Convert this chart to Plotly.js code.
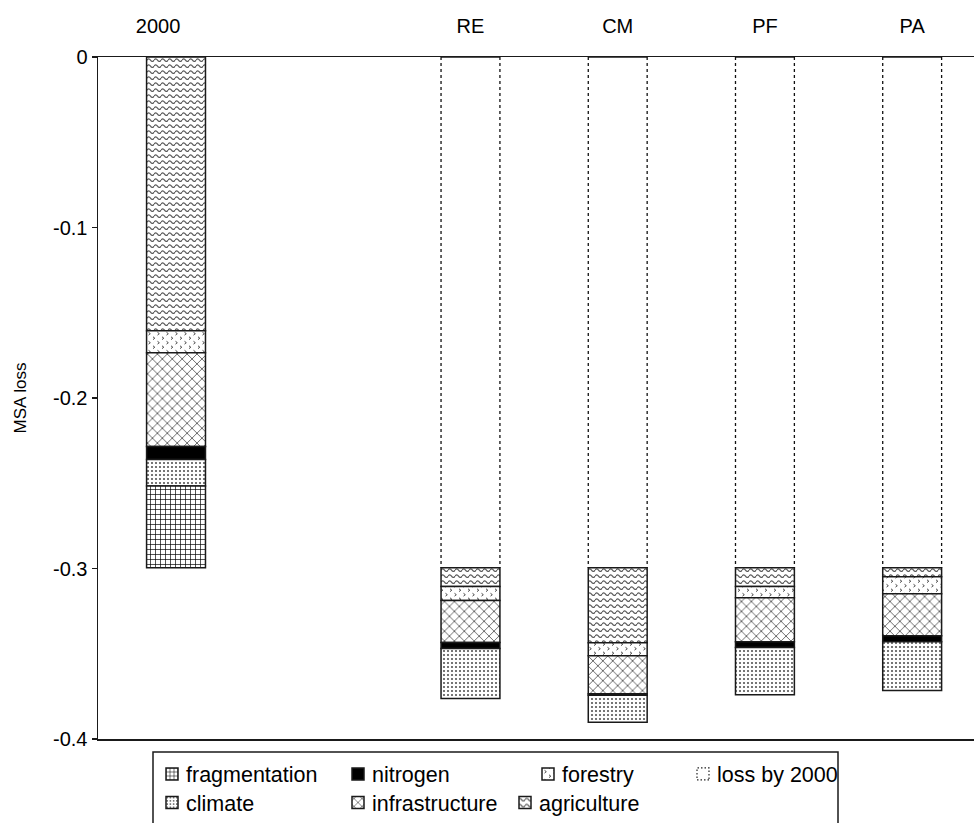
<!DOCTYPE html>
<html>
<head>
<meta charset="utf-8">
<script src="https://cdn.plot.ly/plotly-3.0.1.min.js"></script>
<style>
  html, body { margin: 0; padding: 0; background: #ffffff; }
  #chart { width: 974px; height: 823px; }
</style>
</head>
<body>
<div id="chart"></div>
<script>
// ---------------- data ----------------
const categories = ["2000", "", "RE", "CM", "PF", "PA"];
const yTickVals = [0, -0.1, -0.2, -0.3, -0.4];
const yTickText = ["0", "-0.1", "-0.2", "-0.3", "-0.4"];

const lossBy2000     = [0,       null, -0.2995, -0.2995, -0.2995, -0.2995];
const agriculture    = [-0.1605, null, -0.0111, -0.0440, -0.0111, -0.0053];
const forestry       = [-0.0130, null, -0.0082, -0.0076, -0.0065, -0.0100];
const infrastructure = [-0.0550, null, -0.0246, -0.0223, -0.0258, -0.0246];
const nitrogen       = [-0.0076, null, -0.0035, -0.0010, -0.0035, -0.0035];
const climate        = [-0.0155, null, -0.0293, -0.0158, -0.0276, -0.0287];
const fragmentation  = [-0.0479, null, 0,       0,       0,       0];

// ---------------- styles ----------------
const FONT = "Liberation Sans, Arial, Helvetica, sans-serif";
const BAR_W = 0.4;
const EDGE = { color: "#1a1a1a", width: 1.5 };
const xs = categories.map((c, i) => i);

function barTrace(name, values, marker, legendId) {
  return {
    type: "bar", name: name, x: xs, y: values, width: BAR_W,
    marker: Object.assign({ line: EDGE }, marker),
    legend: legendId, hoverinfo: "name+y"
  };
}

const traces = [
  {
    type: "bar", name: "loss by 2000 ", x: xs, y: lossBy2000, width: BAR_W,
    marker: { color: "rgba(0,0,0,0)", line: { width: 0 } },
    showlegend: false, hoverinfo: "name+y"
  },
  barTrace("agriculture", agriculture,
    { color: "#ffffff", pattern: { shape: "-", fgcolor: "#555555", bgcolor: "#ffffff", size: 5, solidity: 0.35 } }, "legend7"),
  barTrace("forestry", forestry,
    { color: "#ffffff", pattern: { shape: ".", fgcolor: "#444444", bgcolor: "#ffffff", size: 7, solidity: 0.12 } }, "legend3"),
  barTrace("infrastructure", infrastructure,
    { color: "#ffffff", pattern: { shape: "x", fgcolor: "#111111", bgcolor: "#ffffff", size: 7, solidity: 0.17 } }, "legend6"),
  barTrace("nitrogen", nitrogen, { color: "#000000" }, "legend2"),
  barTrace("climate", climate,
    { color: "#ffffff", pattern: { shape: ".", fgcolor: "#555555", bgcolor: "#ffffff", size: 4, solidity: 0.22 } }, "legend5"),
  barTrace("fragmentation", fragmentation,
    { color: "#ffffff", pattern: { shape: "+", fgcolor: "#000000", bgcolor: "#ffffff", size: 5, solidity: 0.25 } }, "legend"),
  // legend entry for the reference ("loss by 2000") outline
  {
    type: "bar", name: "loss by 2000", x: [null], y: [null], width: BAR_W,
    marker: { color: "rgba(0,0,0,0)", line: { color: "#222222", width: 1.2 } },
    legend: "legend4", hoverinfo: "skip"
  }
];

// dotted side lines of the "loss by 2000" reference bars (from the data)
const dx = [], dy = [];
lossBy2000.forEach((v, i) => {
  if (v !== null && v < 0) {
    dx.push(xs[i] - BAR_W / 2, xs[i] - BAR_W / 2, null, xs[i] + BAR_W / 2, xs[i] + BAR_W / 2, null);
    dy.push(0, v, null, 0, v, null);
  }
});
traces.push({
  type: "scatter", mode: "lines", x: dx, y: dy, showlegend: false, hoverinfo: "skip",
  line: { color: "#111111", width: 1.3, dash: "dot" }
});

// ---------------- layout ----------------
const L = 98, R = 974, T = 57, B = 739;
const px2x = p => (p - L) / (R - L);
const px2y = p => (B - p) / (B - T);
const legFont = { family: FONT, size: 21.5, color: "#000000" };
function leg(iconLeftPx, ypx) {
  return { x: px2x(iconLeftPx - 14), y: px2y(ypx), xanchor: "left", yanchor: "middle",
    bgcolor: "rgba(0,0,0,0)", borderwidth: 0, font: legFont, itemwidth: 30 };
}

const tickCats = categories.map((c, i) => i).filter(i => categories[i] !== "");

const layout = {
  width: 974, height: 823,
  margin: { l: L, r: 974 - R, t: T, b: 823 - B, pad: 0 },
  paper_bgcolor: "#ffffff", plot_bgcolor: "#ffffff",
  barmode: "relative",
  font: { family: FONT, size: 20, color: "#000000" },
  showlegend: true,
  xaxis: {
    range: [-0.53, 5.42], side: "top",
    tickvals: tickCats, ticktext: tickCats.map(i => categories[i]),
    ticks: "", ticklabelstandoff: 15,
    showline: true, linecolor: "#1a1a1a", linewidth: 1.5, mirror: true,
    showgrid: false, zeroline: false,
    tickfont: { family: FONT, size: 20, color: "#000" }
  },
  yaxis: {
    range: [-0.4, 0],
    tickvals: yTickVals, ticktext: yTickText,
    ticks: "outside", ticklen: 5, tickwidth: 1.2, tickcolor: "#1a1a1a",
    showline: true, linecolor: "#1a1a1a", linewidth: 1.5,
    showgrid: false, zeroline: false,
    tickfont: { family: FONT, size: 20, color: "#000" },
    title: { text: "MSA loss", font: { family: FONT, size: 17, color: "#000" }, standoff: 22 }
  },
  legend:  leg(166, 774),
  legend2: leg(352, 774),
  legend3: leg(542, 774),
  legend4: leg(697, 774),
  legend5: leg(166, 803),
  legend6: leg(352, 803),
  legend7: leg(519, 803),
  shapes: [{
    type: "rect", xref: "paper", yref: "paper",
    x0: px2x(153), x1: px2x(838), y0: px2y(752), y1: px2y(826),
    line: { color: "#1a1a1a", width: 1.5 }, fillcolor: "rgba(0,0,0,0)", layer: "above"
  }]
};

// ---------- custom hatch textures (applied to the library's own pattern defs) ----------
const SVGNS = "http://www.w3.org/2000/svg";
const customPatterns = {
  agriculture: { w: 7, h: 6, html:
    '<rect x="0" y="0" width="7" height="6" fill="#ffffff"/>' +
    '<path d="M0,3.2 Q1.75,0.6 3.5,3.2 T7,3.2" fill="none" stroke="#5a5a5a" stroke-width="1.2"/>' },
  forestry: { w: 9, h: 9, html:
    '<rect x="0" y="0" width="9" height="9" fill="#ffffff"/>' +
    '<path d="M1,0.8 L2.8,2.2 L1,3.6 M5.5,5.3 L7.3,6.7 L5.5,8.1" fill="none" stroke="#333333" stroke-width="0.9"/>' }
};

function patternIdsIn(el) {
  const ids = [];
  el.querySelectorAll("path").forEach(p => {
    const f = (p.style && p.style.fill) || p.getAttribute("fill") || "";
    const m = f.match(/#([^'")\s]+)/);
    if (m && f.indexOf("url") >= 0) ids.push(m[1]);
  });
  return ids;
}
function rewrite(id, spec) {
  const pat = document.getElementById(id);
  if (!pat || pat.getAttribute("data-custom") === "1") return;
  pat.setAttribute("data-custom", "1");
  pat.setAttribute("width", spec.w);
  pat.setAttribute("height", spec.h);
  pat.removeAttribute("patternTransform");
  while (pat.firstChild) pat.removeChild(pat.firstChild);
  const tmp = document.createElementNS(SVGNS, "g");
  tmp.innerHTML = spec.html;
  while (tmp.firstChild) pat.appendChild(tmp.firstChild);
}

function postProcess() {
  const gd = document.getElementById("chart");
  try {
    gd.querySelectorAll("g.barlayer g.trace").forEach((g, k) => {
      const nm = traces[k] && traces[k].name;
      if (customPatterns[nm]) patternIdsIn(g).forEach(id => rewrite(id, customPatterns[nm]));
    });
  } catch (e) {}
  gd.querySelectorAll("g.traces").forEach(g => {
    try {
      let t = null;
      g.querySelectorAll("text").forEach(el => {
        const c = el.getAttribute("class") || "";
        if (/legend\d*text/.test(c)) t = el;
      });
      if (!t) return;
      const txt = (t.textContent || "").trim();
      if (customPatterns[txt]) patternIdsIn(g).forEach(id => rewrite(id, customPatterns[txt]));
      if (txt === "loss by 2000") {
        g.querySelectorAll("path").forEach(p => {
          p.setAttribute("stroke-dasharray", "1.5,2");
          p.style.stroke = "#222";
          p.style.strokeWidth = "1.2px";
          p.style.strokeDasharray = "1.5,2";
          p.style.fill = "none";
        });
      }
      t.setAttribute("x", 34);
    } catch (e) {}
  });
  try {
    gd.querySelectorAll("g.xtick text").forEach(t => {
      if ((t.textContent || "").trim() === "2000") t.setAttribute("dx", "-18");
    });
  } catch (e) {}
}

const p = Plotly.newPlot("chart", traces, layout, { displayModeBar: false, staticPlot: true });
try { document.getElementById("chart").on("plotly_afterplot", postProcess); } catch (e) {}
p.then(postProcess);
setTimeout(postProcess, 0);
setTimeout(postProcess, 100);
setTimeout(postProcess, 400);
</script>
</body>
</html>
